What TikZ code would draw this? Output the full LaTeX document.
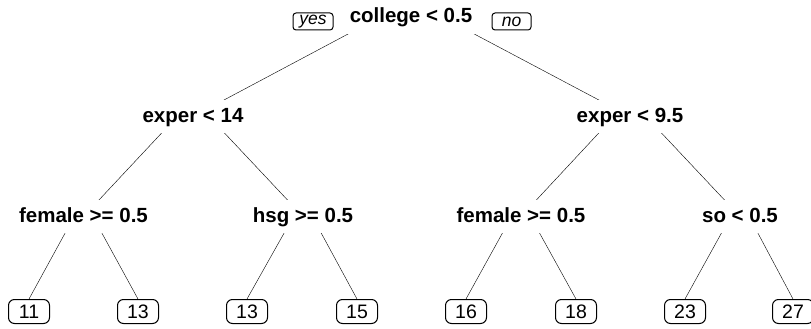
\documentclass[tikz,border=0pt]{standalone}
\usepackage{fontspec}
\setmainfont{Liberation Sans}
\usetikzlibrary{backgrounds}
\tikzset{
  splitnode/.style={fill=white,inner xsep=4pt,inner ysep=7pt,text height=15pt,text depth=4pt,
    font=\fontsize{20.5}{24}\selectfont\bfseries,anchor=base},
  leafbox/.style={draw,fill=white,rounded corners=6pt,minimum width=41pt,minimum height=24pt,
    inner sep=0pt,font=\fontsize{19.5}{22}\selectfont},
  yesno/.style={draw,rounded corners=3pt,minimum width=40pt,minimum height=17pt,inner sep=0pt,
    font=\fontsize{17.5}{20}\selectfont\itshape}
}
\begin{document}
\begin{tikzpicture}[x=1pt,y=-1pt,line width=1pt]
  \useasboundingbox (0,0) rectangle (811,329);
  % splits
  \node[splitnode] (college) at (411,23) {college < 0.5};
  \node[splitnode] (exp14) at (193,122) {exper < 14};
  \node[splitnode] (exp95) at (630,122) {exper < 9.5};
  \node[splitnode] (fem1) at (83.5,222) {female >= 0.5};
  \node[splitnode] (hsg) at (303,222) {hsg >= 0.5};
  \node[splitnode] (fem2) at (521,222) {female >= 0.5};
  \node[splitnode] (so) at (740,222) {so < 0.5};
  % yes / no
  \node[yesno] (yes) at (313,21.5) {yes};
  \node[yesno,minimum width=39pt] (no) at (511.5,21.5) {no};
  % leaves
  \node[leafbox] (l1) at (29,311.5) {11};
  \node[leafbox] (l2) at (138,311.5) {13};
  \node[leafbox] (l3) at (247,311.5) {13};
  \node[leafbox] (l4) at (357,311.5) {15};
  \node[leafbox] (l5) at (466,311.5) {16};
  \node[leafbox] (l6) at (576,311.5) {18};
  \node[leafbox] (l7) at (685,311.5) {23};
  \node[leafbox] (l8) at (793,311.5) {27};
  % branches
  \begin{scope}[on background layer,shorten <=3pt]
    \foreach \p/\c in {college/exp14,college/exp95,exp14/fem1,exp14/hsg,exp95/fem2,exp95/so}
      \draw (\p.north) -- (\c.center);
    \foreach \p/\c in {fem1/l1,fem1/l2,hsg/l3,hsg/l4,fem2/l5,fem2/l6,so/l7,so/l8}
      \draw (\p.north) -- (\c.north);
  \end{scope}
\end{tikzpicture}
\end{document}
